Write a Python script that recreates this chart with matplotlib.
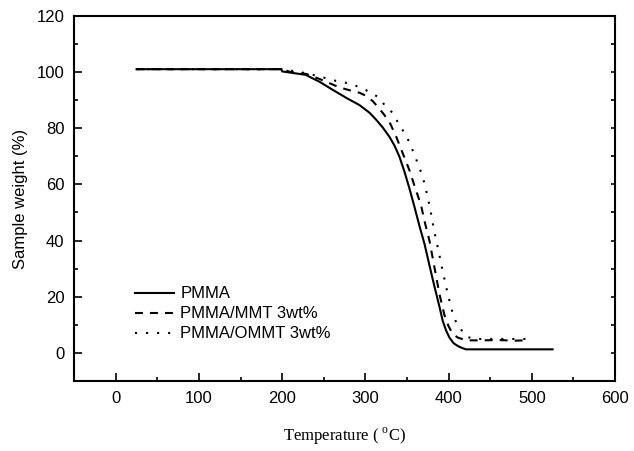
import matplotlib
matplotlib.use("Agg")
import matplotlib.pyplot as plt
from matplotlib.ticker import MultipleLocator

plt.rcParams['font.family'] = ['Liberation Sans', 'DejaVu Sans']
plt.rcParams['mathtext.fontset'] = 'custom'
plt.rcParams['mathtext.rm'] = 'Liberation Serif'

# PMMA (solid)
t_pmma = [25, 199, 200, 228, 245, 261, 277, 293, 305, 313, 321, 329, 335, 341, 347, 353,
          359, 365, 371, 377, 383, 389, 393, 397, 401, 406, 411, 416, 421, 430, 460, 500, 525]
w_pmma = [101, 101, 100.2, 99, 96.5, 93.6, 90.8, 88.2, 85.5, 83, 80.2, 76.9, 73.8, 69.8, 64.5, 58.5,
          52, 45.2, 38.9, 31.2, 23.7, 16.5, 11.4, 8, 5.5, 3.5, 2.5, 1.8, 1.3, 1.3, 1.3, 1.3, 1.3]

# PMMA/MMT 3wt% (dashed)
t_mmt = [25, 200, 205, 210, 229, 245, 257, 269, 281, 293, 301, 309, 315, 321, 329, 337, 345,
         353, 359, 363, 367, 371, 377, 383, 389, 395, 400, 405, 411, 418, 425, 440, 460, 480, 495]
w_mmt = [101, 101, 100.5, 100, 99.3, 97.5, 96, 94.5, 93.5, 92.6, 91.5, 89.6, 87.5, 85.4, 82.2, 77, 71,
         65, 59.5, 56, 52.5, 47, 40, 30.5, 21, 13.5, 9.5, 6.8, 5.5, 4.8, 4.5, 4.5, 4.6, 4.4, 4.5]

# PMMA/OMMT 3wt% (dotted)
t_ommt = [25, 200, 210, 230, 250, 265, 283, 301, 313, 319, 323, 333, 341, 349, 357, 363, 369,
          375, 379, 383, 387, 393, 399, 405, 409, 413, 417, 422, 430, 450, 475, 497]
w_ommt = [101, 101, 100.5, 99.5, 98, 96.8, 95.8, 93.5, 91.5, 90, 88.2, 85.4, 81, 77.5, 72, 67.5, 62.6,
          55.5, 49.5, 43, 37.6, 29, 21, 14, 11, 9.6, 7.3, 5.8, 5, 5, 5, 5]

labels = ['PMMA', 'PMMA/MMT 3wt%', 'PMMA/OMMT 3wt%']

fig = plt.figure(figsize=(6.34, 4.51), dpi=100)
ax = fig.add_axes([0.117, 0.155, 0.853, 0.81])

lw = 1.5
ax.plot(t_pmma, w_pmma, color='black', lw=lw, linestyle='-', label=labels[0])
ax.plot(t_mmt, w_mmt, color='black', lw=lw, linestyle=(0, (3.8, 3.4)), label=labels[1])
ax.plot(t_ommt, w_ommt, color='black', lw=lw, linestyle=(0, (1, 4.3)), label=labels[2])

ax.set_xlim(-50, 600)
ax.set_ylim(-10, 120)
ax.xaxis.set_major_locator(MultipleLocator(100))
ax.xaxis.set_minor_locator(MultipleLocator(50))
ax.yaxis.set_major_locator(MultipleLocator(20))
ax.yaxis.set_minor_locator(MultipleLocator(10))
ax.tick_params(which='both', direction='in', top=False, right=False, width=1.2, labelsize=12, pad=7)
ax.tick_params(which='major', length=6)
ax.tick_params(which='minor', length=3)
ax.set_yticks([0, 20, 40, 60, 80, 100, 120])
for s in ax.spines.values():
    s.set_linewidth(1.5)

# short inward ticks on the right spine, without labels
ax2 = ax.twinx()
ax2.set_ylim(ax.get_ylim())
ax2.yaxis.set_major_locator(MultipleLocator(20))
ax2.yaxis.set_minor_locator(MultipleLocator(10))
ax2.tick_params(which='both', direction='in', length=3, width=1.2, labelright=False)
for s in ax2.spines.values():
    s.set_visible(False)

ax.set_ylabel('Sample weight (%)', fontsize=12, labelpad=6)
ax.set_xlabel(r'Temperature ( $^{\mathrm{o}}$C)', fontsize=12, family='Liberation Serif', labelpad=14)

ax.legend(loc='upper left', bbox_to_anchor=(0.113, 0.259), frameon=False, fontsize=12,
          handlelength=2.3, handletextpad=0.4, labelspacing=0.3, borderpad=0, borderaxespad=0)

fig.savefig('out.png', dpi=100)
